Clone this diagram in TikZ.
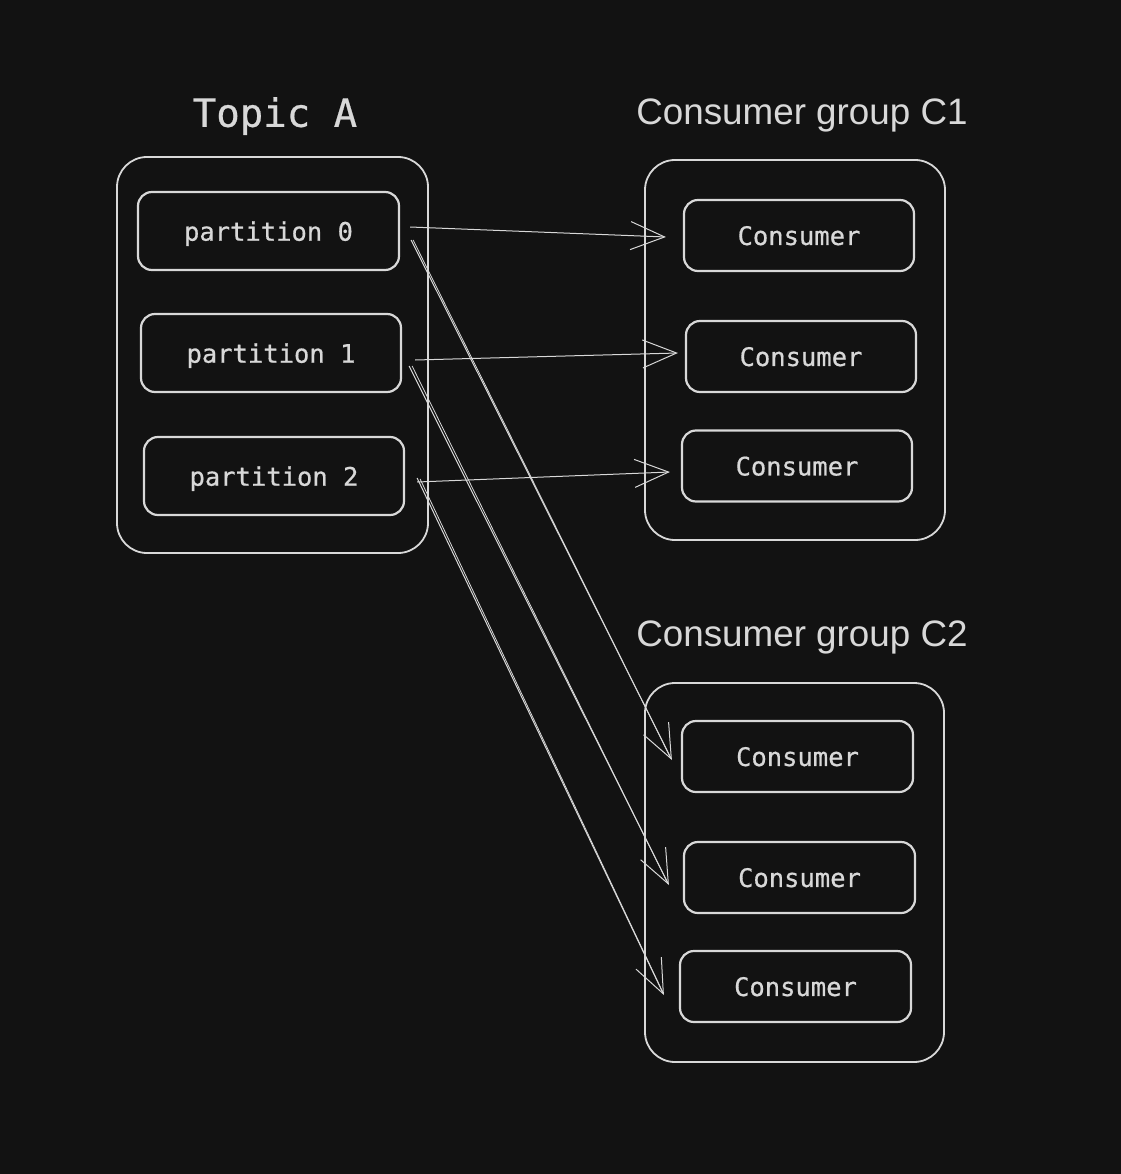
\documentclass[tikz,border=0pt]{standalone}
\usepackage{fontspec}
\setmainfont{Liberation Sans}
\newfontfamily\monofont[FakeBold=0.6]{DejaVu Sans Mono}
\usetikzlibrary{arrows.meta,calc}
\definecolor{bg}{HTML}{121212}
\definecolor{ink}{HTML}{D8D8D8}
\tikzset{
  outerbox/.style={draw=ink, line width=1.8pt, rounded corners=30pt},
  innerbox/.style={draw=ink, line width=2.2pt, rounded corners=14pt, text=ink,
    font=\monofont\fontsize{25.5}{30}\selectfont, inner sep=0pt, text depth=0pt},
  title/.style={text=ink, inner sep=0pt, text depth=0pt},
  flow/.style={draw=ink, line width=1pt, -{Straight Barb[length=34pt,width=28pt,line width=1pt]}},
  ghost/.style={draw=ink, line width=0.8pt},
}
\begin{document}
\begin{tikzpicture}[x=1pt,y=-1pt]
\useasboundingbox (0,0) rectangle (1120,1174);
\fill[bg] (-10,-10) rectangle (1130,1184);
% titles
\node[title, font=\monofont\fontsize{39}{44}\selectfont] (tA) at (275,112) {Topic A};
\node[title, font=\fontsize{36.8}{44}\selectfont] (tC1) at (802,112) {Consumer group C1};
\node[title, font=\fontsize{36.8}{44}\selectfont] (tC2) at (802,634) {Consumer group C2};
% outer boxes
\node[outerbox, minimum width=311pt, minimum height=396pt] (topic) at (272.5,355) {};
\node[outerbox, minimum width=300pt, minimum height=380pt] (g1) at (795,350) {};
\node[outerbox, minimum width=299pt, minimum height=379pt] (g2) at (794.5,872.5) {};
% partitions
\node[innerbox, minimum width=261pt, minimum height=78pt] (p0) at (268.5,231) {partition 0};
\node[innerbox, minimum width=260pt, minimum height=78pt] (p1) at (271,353) {partition 1};
\node[innerbox, minimum width=260pt, minimum height=78pt] (p2) at (274,476) {partition 2};
% consumers
\node[innerbox, minimum width=230pt, minimum height=71pt] (c11) at (799,235.5) {Consumer};
\node[innerbox, minimum width=230pt, minimum height=71pt] (c12) at (801,356.5) {Consumer};
\node[innerbox, minimum width=230pt, minimum height=71pt] (c13) at (797,466) {Consumer};
\node[innerbox, minimum width=231pt, minimum height=71pt] (c21) at (797.5,756.5) {Consumer};
\node[innerbox, minimum width=231pt, minimum height=71pt] (c22) at (799.5,877.5) {Consumer};
\node[innerbox, minimum width=231pt, minimum height=71pt] (c23) at (795.5,986.5) {Consumer};
% arrows
\draw[flow] ($(p0.east)+(10,-4)$) -- ($(c11.west)+(-17,1.5)$);
\draw[flow] ($(p1.east)+(13,7)$) -- ($(c12.west)+(-7,-3.5)$);
\draw[flow] ($(p2.east)+(12,6)$) -- ($(c13.west)+(-11,6)$);
\draw[flow] ($(p0.east)+(11,9)$) -- ($(c21.west)+(-9,3.5)$);
\draw[flow] ($(p1.east)+(7,13)$) -- ($(c22.west)+(-14,7.5)$);
\draw[flow] ($(p2.east)+(12,2)$) -- ($(c23.west)+(-15,8.5)$);
% sketchy second strokes on the long diagonals
\draw[ghost] ($(p0.east)+(13,9)$) -- ($(c21.west)+(-10,2)$);
\draw[ghost] ($(p1.east)+(10,13)$) -- ($(c22.west)+(-15,6)$);
\draw[ghost] ($(p2.east)+(15,3)$) -- ($(c23.west)+(-16,6)$);
\end{tikzpicture}
\end{document}
